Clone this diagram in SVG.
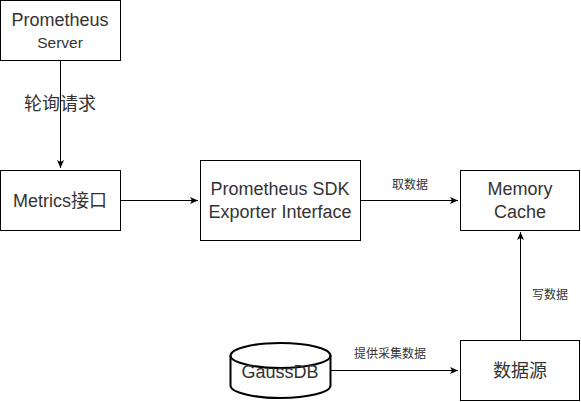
<svg xmlns="http://www.w3.org/2000/svg" width="581" height="402" viewBox="0 0 581 402">
<style>
.box{fill:#fff;stroke:#000;stroke-width:1}
.t{font-family:"Liberation Sans","Noto Sans CJK SC",sans-serif;fill:#333;text-anchor:middle}
.m{font-size:18px}
.s{font-size:12px}
.e{stroke:#000;stroke-width:1;fill:none}
</style>
<defs>
<marker id="ah" markerWidth="10" markerHeight="10" refX="8" refY="5" orient="auto" markerUnits="userSpaceOnUse">
<path d="M0,1.5 L8,5 L0,8.5 L2,5 Z" fill="#000"/>
</marker>
</defs>
<rect width="581" height="402" fill="#fff"/>
<g id="connectors">
<path class="e" d="M60.5,60.5 V168" marker-end="url(#ah)"/>
<text class="t" x="60" y="110" font-size="18">轮询请求</text>
<path class="e" d="M120.5,200.5 H198" marker-end="url(#ah)"/>
<path class="e" d="M360.5,200.5 H458" marker-end="url(#ah)"/>
<text class="t s" x="410" y="189">取数据</text>
<path class="e" d="M520.5,340.5 V232" marker-end="url(#ah)"/>
<text class="t s" x="550" y="299">写数据</text>
<path class="e" d="M330.5,370.5 H458" marker-end="url(#ah)"/>
<text class="t s" x="390" y="358">提供采集数据</text>
</g>
<g id="prometheus-server">
<rect class="box" x="0.5" y="0.5" width="120" height="60"/>
<text class="t m" x="60" y="26">Prometheus</text>
<text class="t" x="60" y="48" font-size="15.5">Server</text>
</g>
<g id="metrics">
<rect class="box" x="0.5" y="170.5" width="120" height="60"/>
<text class="t m" x="60" y="207">Metrics接口</text>
</g>
<g id="sdk">
<rect class="box" x="200.5" y="160.5" width="160" height="80"/>
<text class="t m" x="280" y="195">Prometheus SDK</text>
<text class="t m" x="280" y="218">Exporter Interface</text>
</g>
<g id="memory-cache">
<rect class="box" x="460.5" y="170.5" width="119" height="60"/>
<text class="t m" x="520" y="195">Memory</text>
<text class="t m" x="520" y="218">Cache</text>
</g>
<g id="datasource">
<rect class="box" x="460.5" y="340.5" width="119" height="60"/>
<text class="t" x="520" y="377" font-size="18">数据源</text>
</g>
<g id="gaussdb">
<path d="M230.5,355.5 A50,12.5 0 0 1 330.5,355.5 V385.5 A50,12.5 0 0 1 230.5,385.5 Z" fill="#fff" stroke="#000" stroke-width="2"/>
<path d="M230.5,355.5 A50,12.5 0 0 0 330.5,355.5" fill="none" stroke="#000" stroke-width="2"/>
<text class="t m" x="280" y="378">GaussDB</text>
</g>
</svg>
